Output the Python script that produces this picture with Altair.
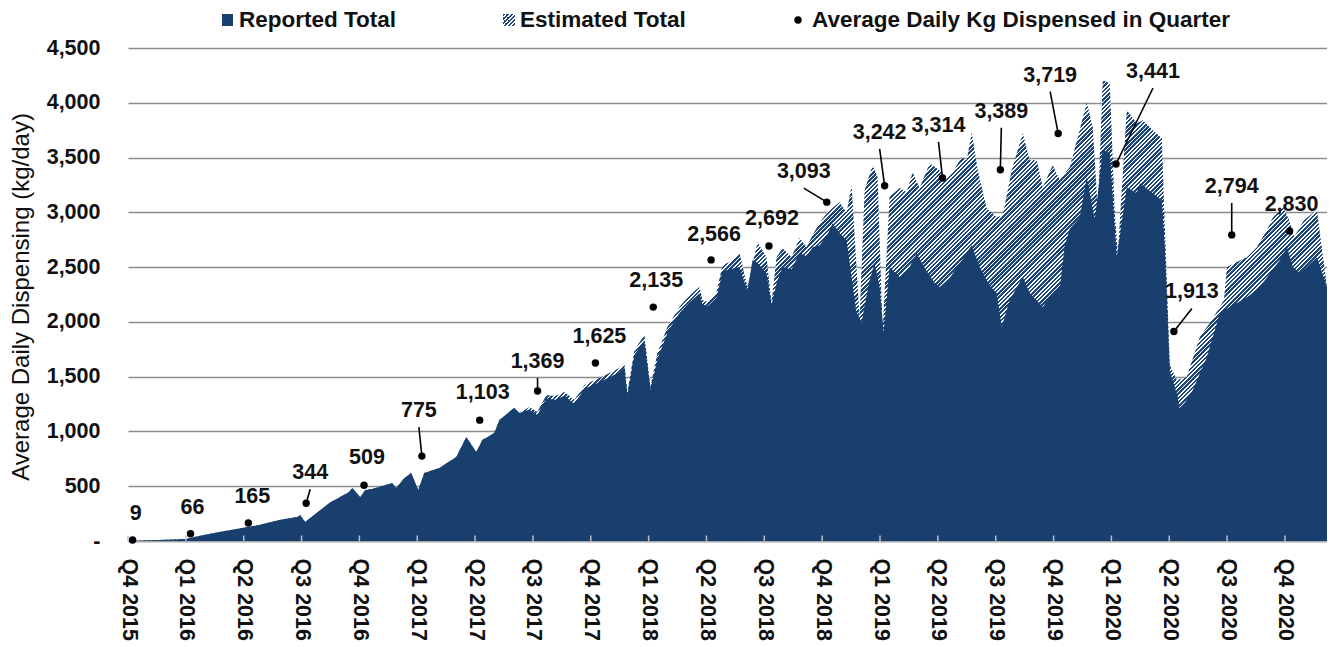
import math
import altair as alt
import pandas as pd

# ---------------- data ----------------
quarters = ["Q4 2015", "Q1 2016", "Q2 2016", "Q3 2016", "Q4 2016", "Q1 2017", "Q2 2017",
            "Q3 2017", "Q4 2017", "Q1 2018", "Q2 2018", "Q3 2018", "Q4 2018", "Q1 2019",
            "Q2 2019", "Q3 2019", "Q4 2019", "Q1 2020", "Q2 2020", "Q3 2020", "Q4 2020"]
avg_daily = [9, 66, 165, 344, 509, 775, 1103, 1369, 1625, 2135, 2566, 2692, 3093, 3242,
             3314, 3389, 3719, 3441, 1913, 2794, 2830]

# position in quarters since start of Q4 2015
total_q = [0, 0.536, 1.003, 1.142, 1.488, 1.972, 2.266, 2.612, 2.924, 2.976, 3.062, 3.218,
           3.478, 3.824, 3.875, 4.014, 4.100, 4.221, 4.567, 4.637, 4.775, 4.896, 5.017,
           5.121, 5.381, 5.675, 5.848, 6.021, 6.125, 6.332, 6.419, 6.626, 6.678, 6.765,
           6.938, 7.076, 7.232, 7.388, 7.543, 7.716, 7.889, 8.149, 8.495, 8.581, 8.633,
           8.754, 8.927, 9.031, 9.152, 9.325, 9.533, 9.706, 9.879, 9.931, 10.017, 10.173,
           10.277, 10.398, 10.571, 10.709, 10.882, 11.038, 11.125, 11.211, 11.315, 11.471,
           11.609, 11.730, 11.834, 11.955, 12.093, 12.301, 12.422, 12.509, 12.647, 12.734,
           12.872, 12.958, 13.045, 13.166, 13.339, 13.460, 13.564, 13.685, 13.858, 14.031,
           14.152, 14.256, 14.412, 14.498, 14.585, 14.689, 14.844, 15.017, 15.121, 15.277,
           15.467, 15.588, 15.709, 15.813, 15.986, 16.107, 16.280, 16.419, 16.574, 16.678,
           16.765, 16.851, 16.972, 17.059, 17.111, 17.266, 17.439, 17.543, 17.716, 17.872,
           17.924, 18.010, 18.131, 18.218, 18.304, 18.529, 18.702, 18.875, 18.945, 18.997,
           19.170, 19.343, 19.516, 19.689, 19.792, 19.965, 20.073, 20.163, 20.329, 20.553,
           20.657, 20.727]
total_kg = [0, 9, 18, 36, 73, 119, 146, 192, 219, 237, 173, 237,
            347, 447, 484, 401, 465, 474, 529, 484, 575, 620, 465,
            620, 666, 766, 949, 812, 921, 985, 1104, 1195, 1213, 1168,
            1223, 1177, 1332, 1323, 1360, 1286, 1423, 1487, 1578, 1624, 1360,
            1743, 1880, 1405, 1715, 1953, 2135, 2245, 2318, 2199, 2181, 2272,
            2518, 2546, 2628, 2318, 2728, 2591, 2172, 2591, 2673, 2591,
            2765, 2682, 2792, 2901, 3002, 3093, 2993, 3248, 2035, 3202,
            3430, 3321, 1925, 3139, 3221, 3184, 3367, 3221, 3449, 3385,
            3312, 3367, 3504, 3476, 3732, 3385, 3038, 2956, 2974, 3385,
            3723, 3476, 3476, 3230, 3430, 3294, 3412, 3686, 4005, 3777,
            3020, 4206, 4179, 2993, 2628, 3932, 3814, 3841, 3750, 3677,
            2865, 1606, 1469, 1480, 1500, 1861, 1989, 2135, 2200, 2500,
            2546, 2591, 2682, 2838, 2956, 3047, 2929, 2774, 2929, 3020,
            2600, 2318]

reported_q = [0, 0.536, 1.003, 1.142, 1.488, 1.972, 2.266, 2.612, 2.924, 2.976, 3.062, 3.218,
              3.478, 3.824, 3.875, 4.014, 4.100, 4.221, 4.567, 4.637, 4.775, 4.896, 5.017,
              5.121, 5.381, 5.675, 5.848, 6.021, 6.125, 6.332, 6.419, 6.626, 6.678, 6.765,
              6.938, 7.076, 7.232, 7.388, 7.543, 7.716, 7.889, 8.149, 8.495, 8.581, 8.633,
              8.754, 8.927, 9.031, 9.152, 9.325, 9.533, 9.706, 9.879, 9.931, 10.017, 10.173,
              10.277, 10.398, 10.571, 10.709, 10.796, 10.882, 11.038, 11.125, 11.211, 11.315,
              11.471, 11.609, 11.730, 11.834, 11.955, 12.093, 12.180, 12.301, 12.422, 12.509,
              12.595, 12.682, 12.820, 12.907, 12.993, 13.062, 13.166, 13.339, 13.512, 13.633,
              13.772, 13.945, 14.031, 14.204, 14.412, 14.585, 14.723, 14.896, 15.017, 15.104,
              15.242, 15.467, 15.588, 15.813, 15.986, 16.107, 16.194, 16.280, 16.453, 16.574,
              16.713, 16.851, 16.972, 17.093, 17.266, 17.439, 17.491, 17.716, 17.872, 17.924,
              18.010, 18.148, 18.183, 18.408, 18.651, 18.875, 19.048, 19.343, 19.567, 19.740,
              19.913, 20.035, 20.138, 20.260, 20.553, 20.727]
reported_kg = [0, 9, 18, 36, 73, 119, 146, 192, 219, 237, 173, 237,
               347, 447, 484, 401, 465, 474, 529, 484, 575, 620, 465,
               620, 666, 766, 949, 812, 921, 985, 1104, 1195, 1213, 1168,
               1200, 1150, 1300, 1290, 1325, 1250, 1390, 1450, 1540, 1585, 1330,
               1700, 1830, 1380, 1660, 1900, 2080, 2180, 2260, 2160, 2140, 2220,
               2460, 2480, 2500, 2280, 2564, 2540, 2445, 2150, 2350, 2500,
               2480, 2628, 2600, 2682, 2700, 2800, 2901, 2810, 2746, 2400,
               2080, 2000, 2381, 2536, 2318, 1900, 2500, 2409, 2500, 2628,
               2491, 2354, 2318, 2400, 2560, 2700, 2500, 2330, 2263, 1953,
               2199, 2409, 2263, 2135, 2263, 2300, 2700, 2850, 2950, 3321,
               2929, 3567, 3540, 2591, 3230, 3175, 3266, 3175, 3111, 2682,
               1550, 1314, 1190, 1378, 1679, 2080, 2135, 2226, 2318, 2445,
               2564, 2682, 2500, 2445, 2591, 2318]

# annotation layout for the quarter-average labels (pixels from the dot)
label_dx = [3, 2, 4, 4, 3, -3, 3, 0, 4, 3, 3, 3, -23, -5, -4, 1, -8, 37, 18, 0, 2]
label_dy = [-26, -26, -26, -30, -27, -45, -27, -29, -26, -26, -25, -27, -30, -53, -52,
            -58, -58, -92, -39, -48, -26]
has_leader = [0, 0, 0, 1, 0, 1, 0, 1, 0, 0, 0, 0, 1, 1, 1, 1, 1, 1, 1, 1, 0]

# ---------------- styling ----------------
FONT = "Liberation Sans"
NAVY = "#183f6e"
HATCH = "#1d4679"
TXT = "#111111"
PLOT_W, PLOT_H = 1199, 493
X_MAX = 20.727
Y_MAX = 4500
px_q = PLOT_W / X_MAX
px_v = PLOT_H / Y_MAX
DOT_SHIFT = 0.08


def stripe_gradient(w, h, pitch=3.0, frac=0.6):
    r = h / w
    k = (1 + r) / (1 + r * r)
    length = (w + h) / math.sqrt(2)
    n = max(1, int(round(length / pitch)))
    stops = []
    for i in range(n):
        a = i / n
        b = (i + frac) / n
        c = (i + 1) / n
        stops += [alt.GradientStop(offset=a, color=HATCH),
                  alt.GradientStop(offset=b, color=HATCH),
                  alt.GradientStop(offset=b, color="#ffffff"),
                  alt.GradientStop(offset=c, color="#ffffff")]
    return alt.LinearGradient(gradient="linear", stops=stops, x1=0, y1=0, x2=k, y2=k * r)


area_w = px_q * (max(total_q) - min(total_q))
area_h = px_v * max(total_kg)
area_fill = stripe_gradient(area_w, area_h)
legend_fill = stripe_gradient(12, 12)

total_df = pd.DataFrame({"q": total_q, "v": total_kg})
rep_df = pd.DataFrame({"q": reported_q, "v": reported_kg})

dot_q = [i + DOT_SHIFT for i in range(len(avg_daily))]
lab_q = [q + dx / px_q for q, dx in zip(dot_q, label_dx)]
lab_v = [v - dy / px_v for v, dy in zip(avg_daily, label_dy)]
avg_df = pd.DataFrame({"q": dot_q, "v": avg_daily, "lq": lab_q, "lv": lab_v,
                       "txt": [f"{a:,}" for a in avg_daily]})
lead_df = pd.DataFrame({
    "q": [lq for lq, h in zip(lab_q, has_leader) if h],
    "v": [lv - 16 / px_v for lv, h in zip(lab_v, has_leader) if h],
    "q2": [dq for dq, h in zip(dot_q, has_leader) if h],
    "v2": [a for a, h in zip(avg_daily, has_leader) if h],
})
tick_df = pd.DataFrame({"q": list(range(len(quarters))), "v": [0] * len(quarters),
                        "v2": [50] * len(quarters)})

xscale = alt.Scale(domain=[0, X_MAX], nice=False, zero=False)
yscale = alt.Scale(domain=[0, Y_MAX], nice=False)
label_array = "[" + ",".join(f"'{q}'" for q in quarters) + "]"
xaxis = alt.Axis(values=list(range(len(quarters))),
                 labelExpr=f"{label_array}[round(datum.value)]",
                 labelAngle=90, labelAlign="left", labelBaseline="middle",
                 labelPadding=17, ticks=False, tickSize=0, grid=False,
                 domain=True, domainColor="#a6a6a6", domainWidth=1.5,
                 labelFont=FONT, labelFontSize=21.5, labelFontWeight="bold",
                 labelColor=TXT, labelFlush=False, labelOverlap=False, title=None)
yaxis = alt.Axis(values=list(range(0, 4501, 500)),
                 labelExpr="datum.value == 0 ? '-\u00a0\u00a0' : format(datum.value, ',')",
                 grid=True, gridColor="#8c8c8c", gridWidth=1.4, domain=False,
                 ticks=False, tickSize=0, labelPadding=28, labelFont=FONT,
                 labelFontSize=21.5, labelFontWeight="bold", labelColor=TXT,
                 labelOverlap=False,
                 title="Average Daily Dispensing  (kg/day)", titleFont=FONT,
                 titleFontSize=24, titleFontWeight="normal", titleColor=TXT,
                 titleX=-107, titleY=PLOT_H / 2 + 2, titleAngle=270,
                 titleAlign="center", titleBaseline="middle")

X = alt.X("q:Q", scale=xscale, axis=xaxis)
Y = alt.Y("v:Q", scale=yscale, axis=yaxis)

total_layer = alt.Chart(total_df).mark_area(fill=area_fill, opacity=1,
                                            interpolate="linear").encode(x=X, y=Y)
rep_layer = alt.Chart(rep_df).mark_area(color=NAVY, opacity=1,
                                        interpolate="linear").encode(x=X, y=Y)
tick_layer = alt.Chart(tick_df).mark_rule(color="#b8bfcc", strokeWidth=1.5).encode(
    x=X, y=Y, y2="v2:Q")
lead_layer = alt.Chart(lead_df).mark_rule(color="#000000", strokeWidth=1.6).encode(
    x=X, y=Y, x2="q2:Q", y2="v2:Q")
dot_layer = alt.Chart(avg_df).mark_circle(color="#000000", size=55, opacity=1).encode(
    x=X, y=Y)
lab_layer = alt.Chart(avg_df).mark_text(font=FONT, fontSize=21.5, fontWeight="bold",
                                        color=TXT, align="center",
                                        baseline="middle").encode(
    x=alt.X("lq:Q", scale=xscale, axis=xaxis), y=alt.Y("lv:Q", scale=yscale, axis=yaxis),
    text="txt:N")

one = pd.DataFrame({"a": [0]})
leg_y = -28
LEG_FS = 22.5
legend_layers = [
    alt.Chart(one).mark_rect(color=NAVY).encode(
        x=alt.value(94), x2=alt.value(105), y=alt.value(leg_y - 6), y2=alt.value(leg_y + 6)),
    alt.Chart(one).mark_text(font=FONT, fontSize=LEG_FS, fontWeight="bold", color=TXT,
                             align="left", baseline="middle").encode(
        x=alt.value(111), y=alt.value(leg_y), text=alt.value("Reported Total")),
    alt.Chart(one).mark_rect(fill=legend_fill).encode(
        x=alt.value(375), x2=alt.value(387), y=alt.value(leg_y - 6), y2=alt.value(leg_y + 6)),
    alt.Chart(one).mark_text(font=FONT, fontSize=LEG_FS, fontWeight="bold", color=TXT,
                             align="left", baseline="middle").encode(
        x=alt.value(392), y=alt.value(leg_y), text=alt.value("Estimated Total")),
    alt.Chart(one).mark_circle(color="#000000", size=55, opacity=1).encode(
        x=alt.value(670), y=alt.value(leg_y)),
    alt.Chart(one).mark_text(font=FONT, fontSize=LEG_FS, fontWeight="bold", color=TXT,
                             align="left", baseline="middle").encode(
        x=alt.value(684), y=alt.value(leg_y),
        text=alt.value("Average Daily Kg Dispensed in Quarter")),
]

chart = alt.layer(total_layer, rep_layer, tick_layer, lead_layer, dot_layer, lab_layer,
                  *legend_layers).properties(
    width=PLOT_W, height=PLOT_H,
    autosize=alt.AutoSizeParams(type="none"),
    padding={"left": 120, "top": 40, "right": 0, "bottom": 100},
    background="#ffffff",
).configure_view(stroke=None)

chart.save("out.html", embed_options={"renderer": "svg", "actions": False})
